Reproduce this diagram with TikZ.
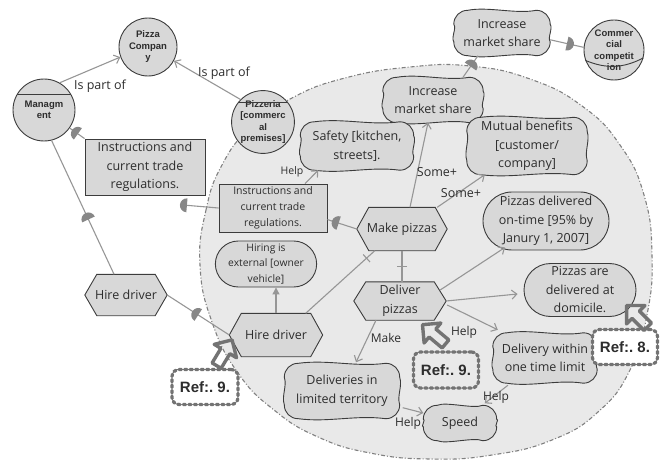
\documentclass[tikz,border=0pt]{standalone}
\usepackage{fontspec}
\setmainfont{Open Sans}
\newfontfamily\arialf{Liberation Sans}
\usetikzlibrary{calc,shapes.misc,shapes.arrows,arrows.meta,decorations.markings}

\definecolor{nfill}{RGB}{216,216,216}
\definecolor{efill}{RGB}{233,233,233}
\definecolor{bord}{RGB}{60,60,60}
\definecolor{lnk}{RGB}{150,150,150}
\definecolor{dmark}{RGB}{135,135,135}
\definecolor{txt}{RGB}{45,45,45}
\definecolor{refc}{RGB}{115,115,115}

\pgfdeclarelayer{back}
\pgfdeclarelayer{shp}
\pgfsetlayers{back,shp,main}

\tikzset{
  base/.style={text=txt, align=center, inner sep=1pt, font=\fontsize{12.5}{18.5}\selectfont},
  actor/.style={circle, draw=bord, fill=nfill, line width=0.9pt, text=txt, align=center,
    inner sep=0pt, font=\arialf\bfseries\fontsize{9.5}{11.5}\selectfont},
  res/.style={base, rectangle, draw=bord, fill=nfill, line width=0.9pt},
  goal/.style={base, rounded rectangle, draw=bord, fill=nfill, line width=0.9pt},
  plain/.style={base, rectangle},
  shapeline/.style={draw=bord, fill=nfill, line width=0.9pt},
  link/.style={draw=lnk, line width=1.1pt},
  arr/.style={link, -{Straight Barb[length=5pt,width=9pt]}},
  fillarr/.style={link, -{Triangle[length=7pt,width=7pt]}},
  lab/.style={text=txt, font=\fontsize{12}{14}\selectfont, inner sep=0pt},
  labs/.style={text=txt, font=\fontsize{10.5}{12}\selectfont, inner sep=0pt},
  lab2/.style={text=txt, font=\fontsize{12.5}{14}\selectfont, inner sep=0pt},
  dep/.style={link, postaction={decorate, decoration={markings,
      mark=at position #1 with {\fill[dmark] (0,-7) arc[start angle=-90,end angle=90,radius=7] -- cycle;}}}},
  deco/.style={link, postaction={decorate, decoration={markings,
      mark=at position #1 with {\draw[lnk, line width=1.1pt] (0,-5) -- (0,5);}}}},
  refbox/.style={draw=refc, line width=3.2pt, dash pattern=on 2.5pt off 3pt, line cap=round,
    rounded corners=7pt, text=txt, font=\arialf\bfseries\fontsize{15}{17}\selectfont},
  refarr/.style={single arrow, draw=refc, line width=3.4pt, minimum height=30pt, minimum width=26pt,
    single arrow head extend=7pt, inner sep=3pt, line join=round},
}

\newcommand\hexdraw[1]{%
  \path[shapeline] (#1.west) -- ($(#1.north west)+(12,0)$) -- ($(#1.north east)+(-12,0)$)
    -- (#1.east) -- ($(#1.south east)+(-12,0)$) -- ($(#1.south west)+(12,0)$) -- cycle;}

\newcommand\sgdraw[1]{%
  \path[shapeline]
   ($(#1.north west)+(14,0)$)
   .. controls ($(#1.north)+(-14,-4)$) and ($(#1.north)+(14,4)$) .. ($(#1.north east)+(-14,0)$)
   .. controls ($(#1.north east)+(-6,0)$) and ($(#1.north east)+(0,6)$) .. ($(#1.north east)+(0,14)$)
   .. controls ($(#1.east)+(3,-5)$) and ($(#1.east)+(-3,5)$) .. ($(#1.south east)+(0,-14)$)
   .. controls ($(#1.south east)+(0,-6)$) and ($(#1.south east)+(-6,0)$) .. ($(#1.south east)+(-14,0)$)
   .. controls ($(#1.south)+(14,-4)$) and ($(#1.south)+(-14,4)$) .. ($(#1.south west)+(14,0)$)
   .. controls ($(#1.south west)+(6,0)$) and ($(#1.south west)+(0,-6)$) .. ($(#1.south west)+(0,-14)$)
   .. controls ($(#1.west)+(-3,5)$) and ($(#1.west)+(3,-5)$) .. ($(#1.north west)+(0,14)$)
   .. controls ($(#1.north west)+(0,6)$) and ($(#1.north west)+(6,0)$) .. ($(#1.north west)+(14,0)$)
   -- cycle;}

\begin{document}
\begin{tikzpicture}[x=1pt,y=-1pt]
\useasboundingbox (0,0) rectangle (662,460);

\begin{pgfonlayer}{back}
\draw[fill=efill, draw=lnk!85!black, line width=1.1pt, dash pattern=on 4pt off 2pt on 1pt off 2pt]
  plot[smooth cycle, tension=0.8] coordinates {(200,265) (206,210) (222,165) (250,128) (292,98)
  (345,78) (410,67) (470,66) (530,79) (582,106) (620,145) (644,195) (652,255) (647,315)
  (630,370) (598,412) (552,440) (492,455) (430,459) (370,453) (318,437) (274,410) (238,373) (212,322)};
\end{pgfonlayer}

% actors
\node[actor, minimum size=58pt] (pc) at (148,47) {Pizza\\Compan\\y};
\node[actor, minimum size=62pt] (mg) at (44,110) {Managm\\ent};
\node[actor, minimum size=60pt] (pz) at (263,122) {Pizzeria\\{[}commerc\\al\\premises{]}};
\node[actor, minimum size=60pt] (cc) at (614,50) {Commer\\cial\\competit\\ion};
\draw[draw=bord, line width=0.9pt] (mg.150) -- (mg.30);
\draw[draw=bord, line width=0.9pt] (pz.143) -- (pz.37);
\draw[draw=bord, line width=0.9pt] (cc.200) to[bend right=25] (cc.-15);

% resources
\node[res, minimum width=120pt, minimum height=56pt] (ins1) at (145,167) {Instructions and\\current trade\\regulations.};
\node[res, font=\fontsize{10.5}{16}\selectfont, minimum width=108pt, minimum height=48pt] (ins2) at (273,208) {Instructions and\\current trade\\regulations.};

% goals
\node[goal, font=\fontsize{10.3}{15.5}\selectfont, minimum width=101pt, minimum height=46pt] (hie) at (266,264) {Hiring is\\external [owner\\vehicle]};
\node[goal, minimum width=128pt, minimum height=58pt] (pdo) at (546,221) {Pizzas delivered\\on-time [95\% by\\Janury 1, 2007]};
\node[goal, minimum width=114pt, minimum height=53pt] (pdd) at (580,290) {Pizzas are\\delivered at\\domicile.};

% tasks
\node[plain, minimum width=90pt, minimum height=43pt] (mp) at (402,229) {Make pizzas};
\node[plain, minimum width=92pt, minimum height=38pt] (dp) at (400,301) {Deliver\\pizzas};
\node[plain, minimum width=93pt, minimum height=43pt] (hd2) at (276,335) {Hire driver};
\node[plain, minimum width=82pt, minimum height=41pt] (hd1) at (126,295) {Hire driver};

% softgoals
\node[plain, minimum width=96pt, minimum height=45pt] (ims2) at (502,33) {Increase\\market share};
\node[plain, minimum width=100pt, minimum height=45pt] (ims1) at (433,100) {Increase\\market share};
\node[plain, minimum width=120pt, minimum height=57pt] (mb) at (527,146) {Mutual benefits\\{[}customer/\\company]};
\node[plain, minimum width=113pt, minimum height=48pt] (sf) at (357,146) {Safety [kitchen,\\streets].};
\node[plain, minimum width=104pt, minimum height=50pt] (dw) at (545,358) {Delivery within\\one time limit};
\node[plain, minimum width=73pt, minimum height=35pt] (sp) at (460,423) {Speed};
\node[plain, minimum width=115pt, minimum height=55pt] (dl) at (342,391) {Deliveries in\\limited territory};

\begin{pgfonlayer}{shp}
\foreach \n in {mp,dp,hd1,hd2} {\hexdraw{\n}}
\foreach \n in {ims1,ims2,mb,sf,dw,sp,dl} {\sgdraw{\n}}
\end{pgfonlayer}

% is-part-of links
\draw[arr] (mg.60) -- (pc.200);
\node[lab2] at (100,86) {Is part of};
\draw[arr] (pz.135) -- (pc.-28);
\node[lab2] at (224,73) {Is part of};

% dependencies
\coordinate (d2) at (183,205);
\draw[dep=0.45] (ins1.north west) -- (mg);
\draw[dep=0.89] (ins2.west) -- (d2);
\draw[dep=0.62] (mp.west) -- (ins2.-12);
\draw[dep=0.41] (hd1.120) -- (mg.-76);
\draw[dep=0.5] (hd2.west) -- (hd1.east);
\draw[dep=0.5] ($(ims1.north)+(30,0)$) -- ($(ims2.south)+(-24,0)$);
\draw[dep=0.5] (ims2.-8) -- (cc.175);

% contributions
\draw[arr] ($(ins2.north)+(32,0)$) -- ($(sf.south west)+(18,0)$);
\node[labs] at (292,172) {Help};
\draw[arr] ($(mp.north)+(8,0)$) -- ($(ims1.south)+(-5,0)$);
\node[lab2] at (437,172) {Some+};
\draw[arr] ($(mp.north east)+(-10,0)$) -- ($(mb.south west)+(18,0)$);
\node[lab2] at (461,193) {Some+};

% decompositions
\draw[deco=0.12] ($(mp.south west)+(18,0)$) -- ($(hd2.north east)+(-17,0)$);
\draw[deco=0.5] (mp.south) -- (mp.south |- dp.north);

% from deliver pizzas
\draw[arr] ($(dp.east)+(-6,-11)$) -- ($(pdo.south)+(-41,-3)$);
\draw[arr] (dp.east) -- ($(pdd.west)+(-6,4)$);
\draw[arr] ($(dp.east)+(1,4)$) -- ($(dw.north west)+(5,-3)$);
\node[lab] at (464,332) {Help};
\draw[arr] ($(dp.south)+(-24,0)$) -- ($(dl.north)+(14,-1)$);
\node[lab] at (386,338) {Make};
\draw[fillarr] (hd2.north) -- (hd2.north |- hie.south);
\draw[arr] ($(dl.south east)+(3,-11)$) -- ($(sp.west)+(0,-10)$);
\node[lab] at (408,423) {Help};
\draw[arr] ($(dw.south)+(-37,2)$) -- ($(sp.north east)+(-12,-2)$);
\node[lab] at (496,397) {Help};

% references
\node[refbox, fill=white, minimum width=66pt, minimum height=35pt] (r1) at (205,387) {Ref:.\ 9.};
\node[refbox, minimum width=65pt, minimum height=36pt] (r2) at (446,370) {Ref:.\ 9.};
\node[refbox, fill=white, minimum width=65pt, minimum height=35pt] (r3) at (625,347) {Ref:.\ 8.};
\node[refarr, rotate=59] (a1) at (223,355) {};
\node[refarr, rotate=140] (a2) at (436,336) {};
\node[refarr, rotate=135] (a3) at (639,318) {};
\end{tikzpicture}
\end{document}
